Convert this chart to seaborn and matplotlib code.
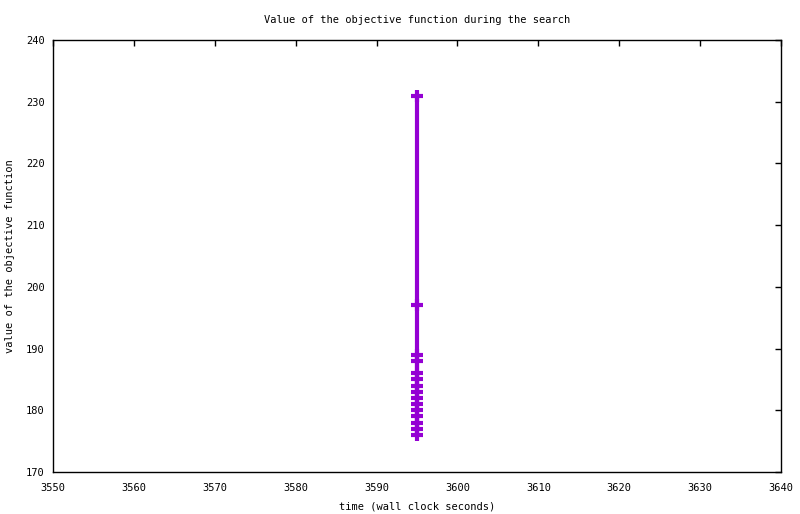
import matplotlib
matplotlib.use("Agg")
import matplotlib.pyplot as plt
import seaborn as sns
import pandas as pd

# values
times = [3595] * 15
objective = [231, 197, 189, 188, 186, 185, 184, 183, 182, 181, 180, 179, 178, 177, 176]

df = pd.DataFrame({"time": times, "value": objective})

sns.set_style("white")
plt.rcParams['font.family'] = ['DejaVu Sans Mono']
plt.rcParams['text.color'] = 'black'
plt.rcParams['axes.labelcolor'] = 'black'

fig = plt.figure(figsize=(8, 5.14), dpi=100)
ax = fig.add_axes([53 / 800, 42 / 514, 728 / 800, 432 / 514])

# estimator=None so every point is drawn, not averaged per x
sns.lineplot(data=df, x="time", y="value", sort=False, estimator=None, ax=ax,
             color="#9400d3", linewidth=3, marker="+", markersize=9,
             markeredgewidth=3, markeredgecolor="#9400d3")

ax.set_xlim(3550, 3640)
ax.set_ylim(170, 240)
ax.set_xticks(range(3550, 3641, 10))
ax.set_yticks(range(170, 241, 10))
ax.tick_params(direction="in", length=4.5, width=1, top=True, right=True,
               labelsize=7.5, colors="black", pad=6)
ax.tick_params(axis="x", pad=8)
for s in ax.spines.values():
    s.set_color("black")
    s.set_linewidth(1)

ax.set_xlabel("time (wall clock seconds)", fontsize=7.5, labelpad=6)
ax.set_ylabel("value of the objective function", fontsize=7.5, labelpad=8)
ax.set_title("Value of the objective function during the search", fontsize=7.5, pad=12)

fig.savefig("out.png", dpi=100)
